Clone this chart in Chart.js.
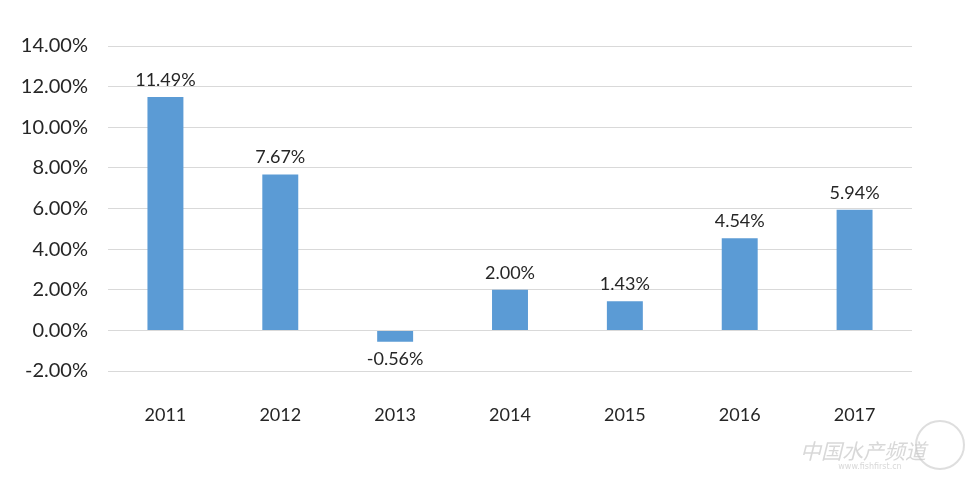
<!DOCTYPE html>
<html><head><meta charset="utf-8">
<script src="https://cdn.jsdelivr.net/npm/chart.js@4"></script>
<style>html,body{margin:0;padding:0;background:#fff;}#wrap{width:968px;height:479px;position:relative;}</style>
</head><body><div id="wrap"><canvas id="c" width="968" height="479"></canvas></div>
<script>
const categories = ['2011','2012','2013','2014','2015','2016','2017'];
const growthValues = [11.49, 7.67, -0.56, 2.00, 1.43, 4.54, 5.94];
const yTickMin = -2, yTickMax = 14, yTickStep = 2;

const FONT = 'Lato, "Open Sans", "Liberation Sans", sans-serif';

const dataLabels = {
  id: 'dataLabels',
  afterDatasetsDraw(chart) {
    const ctx = chart.ctx;
    const meta = chart.getDatasetMeta(0);
    ctx.save();
    ctx.font = '18px ' + FONT;
    ctx.fillStyle = '#262626';
    ctx.textAlign = 'center';
    meta.data.forEach((bar, i) => {
      const v = growthValues[i];
      const txt = v.toFixed(2) + '%';
      if (v >= 0) { ctx.textBaseline = 'bottom'; ctx.fillText(txt, bar.x, bar.y - 8); }
      else { ctx.textBaseline = 'top'; ctx.fillText(txt, bar.x, bar.y + 8); }
    });
    ctx.restore();
  }
};
const watermark = {
  id: 'watermark',
  afterDraw(chart) {
    const ctx = chart.ctx;
    ctx.save();
    ctx.fillStyle = 'rgba(200,200,200,0.7)';
    ctx.font = 'italic 21px "Noto Sans CJK SC", sans-serif';
    ctx.textAlign = 'center';
    ctx.textBaseline = 'middle';
    ctx.fillText('中国水产频道', 863, 451);
    ctx.font = '8px "DejaVu Sans", sans-serif';
    ctx.fillText('www.fishfirst.cn', 870, 467);
    ctx.strokeStyle = 'rgba(200,200,200,0.6)';
    ctx.lineWidth = 2;
    ctx.beginPath(); ctx.arc(940, 445, 24, 0, Math.PI*2); ctx.stroke();
    ctx.restore();
  }
};

new Chart(document.getElementById('c'), {
  type: 'bar',
  data: { labels: categories, datasets: [{ data: growthValues, backgroundColor: '#5b9bd5', barPercentage: 0.313, categoryPercentage: 1.0 }] },
  options: {
    responsive: false, animation: false,
    layout: { padding: { top: 46, right: 56, bottom: 0, left: 0 } },
    plugins: { legend: { display: false }, tooltip: { enabled: false } },
    scales: {
      x: {
        grid: { display: false, drawTicks: false },
        border: { display: false },
        ticks: { font: { family: FONT, size: 18 }, color: '#262626', padding: 33 },
        afterFit(s) { s.height = 108; }
      },
      y: {
        min: yTickMin, max: yTickMax,
        grid: { color: '#d9d9d9', drawTicks: false },
        border: { display: false },
        ticks: { stepSize: yTickStep, font: { family: FONT, size: 20 }, color: '#262626', padding: 20,
          callback: v => v.toFixed(2) + '%' },
        afterFit(s) { s.width = 108; }
      }
    }
  },
  plugins: [dataLabels, watermark]
});
</script></body></html>
